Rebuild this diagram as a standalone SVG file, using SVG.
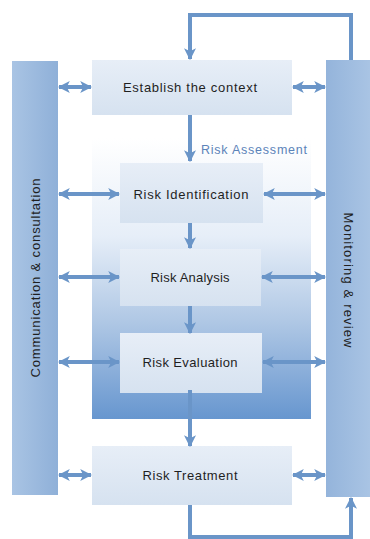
<svg xmlns="http://www.w3.org/2000/svg" width="370" height="539" viewBox="0 0 370 539">
  <defs>
    <linearGradient id="barL" x1="0" y1="0" x2="1" y2="0">
      <stop offset="0" stop-color="#a9c4e4"/>
      <stop offset="1" stop-color="#8fb0d8"/>
    </linearGradient>
    <linearGradient id="barR" x1="0" y1="0" x2="1" y2="0">
      <stop offset="0" stop-color="#94b4db"/>
      <stop offset="1" stop-color="#a9c4e4"/>
    </linearGradient>
    <linearGradient id="frame" x1="0" y1="0" x2="0" y2="1">
      <stop offset="0" stop-color="#ffffff"/>
      <stop offset="0.35" stop-color="#e6eef8"/>
      <stop offset="0.65" stop-color="#b0c8e5"/>
      <stop offset="1" stop-color="#6796cf"/>
    </linearGradient>
    <linearGradient id="box" x1="0" y1="0" x2="0" y2="1">
      <stop offset="0" stop-color="#e7eef7"/>
      <stop offset="1" stop-color="#d6e2f0"/>
    </linearGradient>
    <marker id="ah" viewBox="0 0 10 10" refX="9" refY="5" markerWidth="12" markerHeight="16" markerUnits="userSpaceOnUse" orient="auto-start-reverse">
      <path d="M0,0 L10,5 L0,10 L2.5,5 Z" fill="#6a95c8"/>
    </marker>
  </defs>
  <style>
    .bar-l { fill: url(#barL); }
    .bar-r { fill: url(#barR); }
    .box { fill: url(#box); }
    .lbl { font-family: "Liberation Sans", Arial, sans-serif; font-size: 13px; fill: #1f1f1f; text-anchor: middle; dominant-baseline: central; }
    .dbl { stroke: #6a95c8; stroke-width: 4; fill: none; marker-start: url(#ah); marker-end: url(#ah); }
    .one { stroke: #6a95c8; stroke-width: 4; fill: none; marker-end: url(#ah); }
  </style>

  <g id="risk-assessment">
    <rect x="92" y="138" width="219" height="281" fill="url(#frame)"/>
    <text x="254" y="150" font-family="Liberation Sans, Arial, sans-serif" font-size="12.5" fill="#5b83b9" text-anchor="middle" dominant-baseline="central" textLength="106">Risk Assessment</text>
  </g>

  <g id="communication">
    <rect class="bar-l" x="12" y="61" width="46" height="434"/>
    <text class="lbl" transform="translate(35,278) rotate(-90)" textLength="199">Communication &amp; consultation</text>
  </g>

  <g id="monitoring">
    <rect class="bar-r" x="326" y="60" width="44" height="437"/>
    <text class="lbl" transform="translate(348,280) rotate(90)" textLength="135">Monitoring &amp; review</text>
  </g>

  <g id="establish">
    <rect class="box" x="92" y="60" width="200" height="55"/>
    <text class="lbl" x="190" y="87" textLength="134">Establish the context</text>
  </g>

  <g id="identification">
    <rect class="box" x="120" y="163" width="143" height="60"/>
    <text class="lbl" x="191" y="194" textLength="115">Risk Identification</text>
  </g>

  <g id="analysis">
    <rect class="box" x="120" y="249" width="141" height="57"/>
    <text class="lbl" x="190" y="277" textLength="79">Risk Analysis</text>
  </g>

  <g id="evaluation">
    <rect class="box" x="120" y="333" width="142" height="60"/>
    <text class="lbl" x="190" y="362" textLength="95">Risk Evaluation</text>
  </g>

  <g id="treatment">
    <rect class="box" x="92" y="446" width="200" height="59"/>
    <text class="lbl" x="190" y="475" textLength="95">Risk Treatment</text>
  </g>

  <g id="connectors">
    <path class="one" d="M351,60 V15 H190 V59"/>
    <path class="one" d="M190,505 V537 H351 V498"/>
    <path class="one" d="M190,115 V161"/>
    <path class="one" d="M190,223 V248"/>
    <path class="one" d="M190,306 V333"/>
    <path class="one" d="M190,390 V446"/>
    <path class="dbl" d="M59,87 H91"/>
    <path class="dbl" d="M293,87 H325"/>
    <path class="dbl" d="M59,194 H119"/>
    <path class="dbl" d="M264,194 H325"/>
    <path class="dbl" d="M59,277 H119"/>
    <path class="dbl" d="M262,277 H325"/>
    <path class="dbl" d="M59,362 H119"/>
    <path class="dbl" d="M263,362 H325"/>
    <path class="dbl" d="M59,475 H91"/>
    <path class="dbl" d="M293,475 H325"/>
  </g>
</svg>
